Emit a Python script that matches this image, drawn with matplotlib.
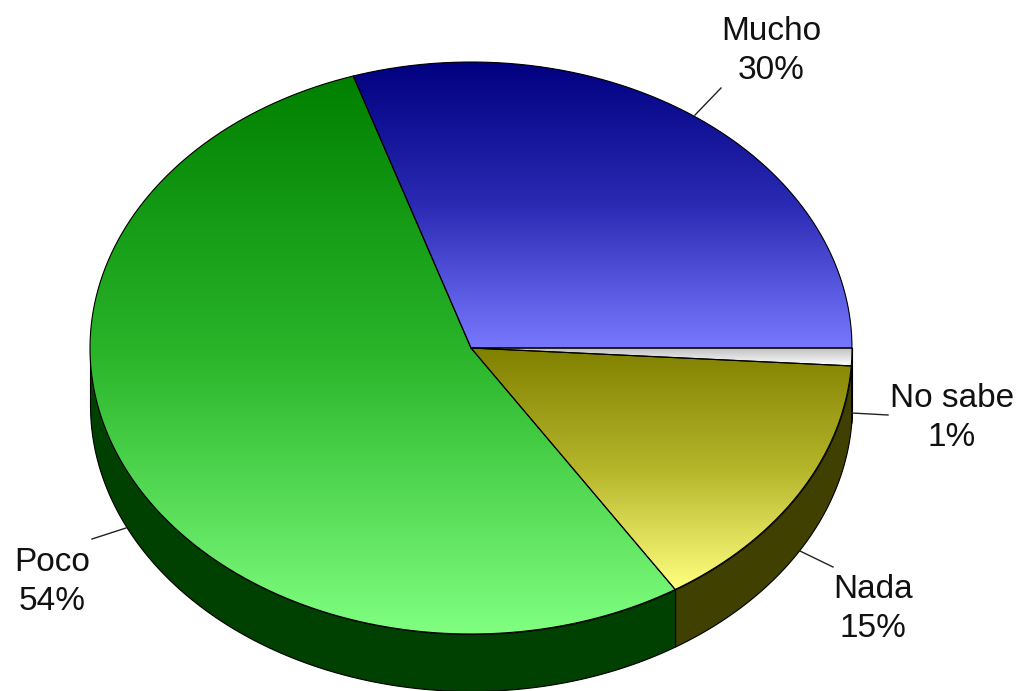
# -*- coding: utf-8 -*-
"""3D looking pie: Mucho / Poco / Nada / No sabe"""

import numpy as np
import matplotlib
matplotlib.use('Agg')
import matplotlib.pyplot as plt
from matplotlib.colors import LinearSegmentedColormap

categories = ['Mucho', 'Poco', 'Nada', 'No sabe']
values = [30, 54, 15, 1]

# gradient stops of every slice (top, middle, bottom) and colour of its side wall
top_colors = ['#000080', '#008000', '#808000', '#c0c0c0']
mid_colors = ['#2a2ab4', '#2ab52a', '#b5b52a', '#e0e0e0']
bottom_colors = ['#7878ff', '#80ff80', '#ffff80', '#ffffff']
wall_colors = ['#000040', '#004000', '#404000', '#404040']

# pie geometry in image pixels
W, H = 1019, 691
cx, cy = 471, 348
rx, ry = 381, 286
depth = 57 / ry

plt.rcParams['font.family'] = ['Liberation Sans', 'DejaVu Sans']


def px(x, y):
    # image pixel -> data coords of the unit pie
    return (x - cx) / rx, (cy - y) / ry


fig = plt.figure(figsize=(W / 100, H / 100), dpi=100)
ax = fig.add_axes([0, 0, 1, 1])

wedges, _ = ax.pie(values, startangle=0, counterclock=True, radius=1,
                   wedgeprops={'edgecolor': 'none', 'zorder': 2})

for i, w in enumerate(wedges):
    t = np.radians(np.linspace(w.theta1, w.theta2, 400))
    xs, ys = np.cos(t), np.sin(t)

    # slice top, vertical gradient clipped to the wedge
    cmap = LinearSegmentedColormap.from_list('s%d' % i,
                                             [top_colors[i], mid_colors[i], bottom_colors[i]])
    grad = np.linspace(0, 1, 256).reshape(-1, 1)
    ymin = min(ys.min(), 0)
    ymax = max(ys.max(), 0)
    xmin = min(xs.min(), 0)
    xmax = max(xs.max(), 0)
    im = ax.imshow(grad, cmap=cmap, extent=(xmin, xmax, ymin, ymax), origin='upper',
                   aspect='auto', zorder=3, interpolation='bilinear')
    im.set_clip_path(w)

    # outline, sampled so it follows the arc
    ax.plot(np.r_[0, xs, 0], np.r_[0, ys, 0], color='black', lw=0.8, zorder=4)

    # side wall, only the part that faces the viewer
    a1, a2 = max(w.theta1, 180), min(w.theta2, 360)
    if a2 > a1:
        t = np.radians(np.linspace(a1, a2, 300))
        ax.fill_between(np.cos(t), np.sin(t), np.sin(t) - depth,
                        facecolor=wall_colors[i], edgecolor='black', lw=0.8, zorder=1)

# labels with their leader lines
label_pos = [(771, 51), (52, 582), (873, 609), (952, 418)]
leaders = [((695, 115), (721, 88)), ((126, 528), (92, 539)),
           ((800, 551), (833, 567)), ((852, 413), (888, 415))]
for name, val, pos, (p0, p1) in zip(categories, values, label_pos, leaders):
    x, y = px(*pos)
    ax.text(x, y, '%s\n%d%%' % (name, val), ha='center', va='center', fontsize=24,
            color='#111111', linespacing=1.34, zorder=6)
    (x0, y0), (x1, y1) = px(*p0), px(*p1)
    ax.plot([x0, x1], [y0, y1], color='#222222', lw=1, zorder=5)

ax.set_xlim(-cx / rx, (W - cx) / rx)
ax.set_ylim((cy - H) / ry, cy / ry)
ax.set_aspect('auto')
ax.axis('off')

fig.savefig('out.png', dpi=100, facecolor='white')
